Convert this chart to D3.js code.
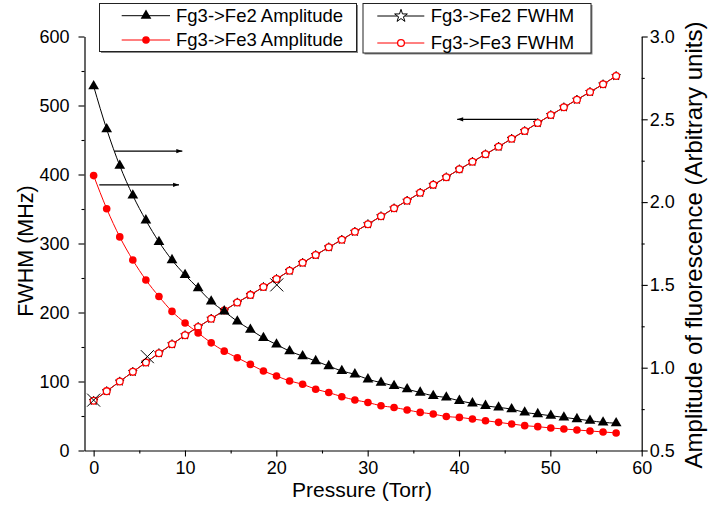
<!DOCTYPE html>
<html><head><meta charset="utf-8">
<script src="https://cdn.jsdelivr.net/npm/d3@7"></script>
<style>
body{margin:0;background:#fff}
svg{display:block}
text{font-family:"Liberation Sans",Arial,Helvetica,sans-serif;fill:#000}
</style>
</head><body>
<svg id="chart" width="713" height="507"></svg>
<script>
// ---------- data ----------
const pressure = [0,1.43,2.86,4.29,5.72,7.15,8.58,10.01,11.44,12.87,14.3,15.73,17.16,18.59,20.02,21.45,22.88,24.31,25.74,27.17,28.6,30.03,31.46,32.89,34.32,35.75,37.18,38.61,40.04,41.47,42.9,44.33,45.76,47.19,48.62,50.05,51.48,52.91,54.34,55.77,57.2];
const fe2Amplitude = [2.70,2.44,2.22,2.04,1.89,1.76,1.65,1.56,1.48,1.40,1.34,1.28,1.23,1.18,1.14,1.10,1.07,1.04,1.01,0.98,0.96,0.93,0.91,0.89,0.87,0.85,0.83,0.82,0.80,0.785,0.77,0.76,0.75,0.73,0.72,0.71,0.70,0.69,0.68,0.67,0.665];
const fe3Amplitude = [2.16,1.96,1.79,1.65,1.53,1.43,1.34,1.27,1.21,1.15,1.10,1.06,1.02,0.98,0.95,0.92,0.90,0.87,0.85,0.825,0.805,0.79,0.77,0.76,0.745,0.73,0.72,0.705,0.70,0.69,0.68,0.67,0.66,0.65,0.644,0.636,0.63,0.624,0.618,0.612,0.606];
const fe2FWHM = [72,86,100,114,127.5,141,154,167,179,191,203,214.5,225.5,237,248.6,260.5,272,283.3,294.5,305.5,317,328,339.5,351,362,373.5,385,396,407.5,418.5,429.3,440.3,451.9,463,474.6,486.2,497.4,508.4,519.6,530.7,542.7];
const fe3FWHM = [72,86,100,114,127.5,141,154,167,179,191,203,214.5,225.5,237,248.6,260.5,272,283.3,294.5,305.5,317,328,339.5,351,362,373.5,385,396,407.5,418.5,429.3,440.3,451.9,463,474.6,486.2,497.4,508.4,519.6,530.7,542.7];
const crossX = [0,5.88,20.05];
const crossY = [73,136,240];
const xTicks = [0,10,20,30,40,50,60];
const xMinor = [5,15,25,35,45,55];
const yLeftTicks = [0,100,200,300,400,500,600];
const yLeftMinor = [50,150,250,350,450,550];
const yRightTicks = [0.5,1.0,1.5,2.0,2.5,3.0];
const yRightMinor = [0.75,1.25,1.75,2.25,2.75];
const arrowX1 = [2.27,0.62,48.5];
const arrowX2 = [9.71,9.35,39.8];
const arrowY = [434,385,480];
const legendLeft = ["Fg3->Fe2 Amplitude","Fg3->Fe3 Amplitude"];
const legendRight = ["Fg3->Fe2 FWHM","Fg3->Fe3 FWHM"];

// ---------- layout ----------
const svg = d3.select("#chart");
const L = 84.5, R = 641.7, T = 36.5, B = 450.5;
const x = d3.scaleLinear().domain([-1,60]).range([L,R]);
const yL = d3.scaleLinear().domain([0,600]).range([B,T]);
const yR = d3.scaleLinear().domain([0.5,3.0]).range([B,T]);
const FS = 18;

svg.append("defs").append("marker")
  .attr("id","ah").attr("viewBox","0 0 10 10").attr("refX",10).attr("refY",5)
  .attr("markerWidth",9).attr("markerHeight",6).attr("markerUnits","userSpaceOnUse")
  .attr("orient","auto")
  .append("path").attr("d","M0,1.5L10,5L0,8.5Z").attr("fill","#000");

// ---------- axes ----------
function styleAxis(g){
  g.selectAll("path.domain").attr("stroke","#000").attr("stroke-width",1.2);
  g.selectAll(".tick line").attr("stroke","#000").attr("stroke-width",1.1);
  g.selectAll("text").attr("font-size",FS).attr("font-family","'Liberation Sans',Arial,sans-serif").attr("fill","#000");
}
const gx = svg.append("g").attr("transform",`translate(0,${B})`)
  .call(d3.axisBottom(x).tickValues(xTicks).tickSize(6).tickSizeOuter(0).tickPadding(5).tickFormat(d3.format("d")));
styleAxis(gx);
const gxm = svg.append("g").attr("transform",`translate(0,${B})`)
  .call(d3.axisBottom(x).tickValues(xMinor).tickSize(3).tickSizeOuter(0).tickFormat(""));
styleAxis(gxm); gxm.select("path.domain").remove();

const gyl = svg.append("g").attr("transform",`translate(${L},0)`)
  .call(d3.axisLeft(yL).tickValues(yLeftTicks).tickSize(6).tickSizeOuter(0).tickPadding(9).tickFormat(d3.format("d")));
styleAxis(gyl);
const gylm = svg.append("g").attr("transform",`translate(${L},0)`)
  .call(d3.axisLeft(yL).tickValues(yLeftMinor).tickSize(3).tickSizeOuter(0).tickFormat(""));
styleAxis(gylm); gylm.select("path.domain").remove();

const gyr = svg.append("g").attr("transform",`translate(${R},0)`)
  .call(d3.axisRight(yR).tickValues(yRightTicks).tickSize(6).tickSizeOuter(0).tickPadding(2).tickFormat(d3.format(".1f")));
styleAxis(gyr);
const gyrm = svg.append("g").attr("transform",`translate(${R},0)`)
  .call(d3.axisRight(yR).tickValues(yRightMinor).tickSize(3).tickSizeOuter(0).tickFormat(""));
styleAxis(gyrm); gyrm.select("path.domain").remove();

// axis titles
svg.append("text").attr("x",362).attr("y",497).attr("text-anchor","middle")
  .attr("font-size",21).text("Pressure (Torr)");
svg.append("text").attr("transform",`translate(33,251) rotate(-90)`).attr("text-anchor","middle")
  .attr("font-size",21.5).text("FWHM (MHz)");
svg.append("text").attr("transform",`translate(702,245) rotate(-90)`).attr("text-anchor","middle")
  .attr("font-size",24).text("Amplitude of fluorescence (Arbitrary units)");

// ---------- series ----------
const fwhm2 = pressure.map((p,i)=>[p,fe2FWHM[i]]);
const fwhm3 = pressure.map((p,i)=>[p,fe3FWHM[i]]);
const amp2 = pressure.map((p,i)=>[p,fe2Amplitude[i]]);
const amp3 = pressure.map((p,i)=>[p,fe3Amplitude[i]]);
const lineL = d3.line().x(d=>x(d[0])).y(d=>yL(d[1])).curve(d3.curveMonotoneX);
const lineR = d3.line().x(d=>x(d[0])).y(d=>yR(d[1])).curve(d3.curveMonotoneX);

const star = d3.symbol().type(d3.symbolStar).size(24);
const starLg = d3.symbol().type(d3.symbolStar).size(50);
const tri = d3.symbol().type(d3.symbolTriangle).size(50);
const xSym = d3.symbol().type(d3.symbolX).size(112);

// FWHM Fe2 (black, stars)
svg.append("path").attr("d",lineL(fwhm2)).attr("fill","none").attr("stroke","#000").attr("stroke-width",1);
svg.append("g").selectAll("path").data(fwhm2).join("path")
  .attr("transform",d=>`translate(${x(d[0])},${yL(d[1])})`).attr("d",star())
  .attr("fill","#000").attr("stroke","#000").attr("stroke-width",0.8);
// FWHM Fe3 (red, open circles)
svg.append("path").attr("d",lineL(fwhm3)).attr("fill","none").attr("stroke","#f00").attr("stroke-width",1);
svg.append("g").selectAll("circle").data(fwhm3).join("circle")
  .attr("cx",d=>x(d[0])).attr("cy",d=>yL(d[1])).attr("r",3.4)
  .attr("fill","#fff").attr("stroke","#f00").attr("stroke-width",1.3);

// Amplitude Fe2 (black triangles)
svg.append("path").attr("d",lineR(amp2)).attr("fill","none").attr("stroke","#000").attr("stroke-width",1);
svg.append("g").selectAll("path").data(amp2).join("path")
  .attr("transform",d=>`translate(${x(d[0])},${yR(d[1])})`).attr("d",tri()).attr("fill","#000");
// Amplitude Fe3 (red circles)
svg.append("path").attr("d",lineR(amp3)).attr("fill","none").attr("stroke","#f00").attr("stroke-width",1);
svg.append("g").selectAll("circle").data(amp3).join("circle")
  .attr("cx",d=>x(d[0])).attr("cy",d=>yR(d[1])).attr("r",3.8).attr("fill","#f00");

// cross markers
svg.append("g").selectAll("path").data(crossX.map((v,i)=>[v,crossY[i]])).join("path")
  .attr("transform",d=>`translate(${x(d[0])},${yL(d[1])})`).attr("d",xSym())
  .attr("fill","none").attr("stroke","#000").attr("stroke-width",1);

// arrows
svg.append("g").selectAll("line").data(arrowY.map((v,i)=>i)).join("line")
  .attr("x1",i=>x(arrowX1[i])).attr("x2",i=>x(arrowX2[i]))
  .attr("y1",i=>yL(arrowY[i])).attr("y2",i=>yL(arrowY[i]))
  .attr("stroke","#000").attr("stroke-width",1.2).attr("marker-end","url(#ah)");

// ---------- legends ----------
function legendBox(x0,y0,w,h){
  svg.append("rect").attr("x",x0+1.5).attr("y",y0+1.5).attr("width",w).attr("height",h).attr("fill","#888");
  svg.append("rect").attr("x",x0).attr("y",y0).attr("width",w).attr("height",h)
    .attr("fill","#fff").attr("stroke","#222").attr("stroke-width",1);
}
legendBox(99.5,3.5,257,48);
legendBox(363,3.5,228,49.5);
const lg = svg.append("g");
[[15.7,"#000"],[40,"#f00"]].forEach(([yy,c],i)=>{
  lg.append("line").attr("x1",121.7).attr("x2",170).attr("y1",yy).attr("y2",yy).attr("stroke",c).attr("stroke-width",1);
  if(i===0) lg.append("path").attr("transform",`translate(146,${yy})`).attr("d",tri()).attr("fill","#000");
  else lg.append("circle").attr("cx",146).attr("cy",yy).attr("r",3.8).attr("fill","#f00");
  lg.append("text").attr("x",176).attr("y",yy).attr("dy","0.35em").attr("font-size",18.5).text(legendLeft[i]);
});
[[16,"#000"],[43,"#f00"]].forEach(([yy,c],i)=>{
  lg.append("line").attr("x1",377.3).attr("x2",424.3).attr("y1",yy).attr("y2",yy).attr("stroke",c).attr("stroke-width",1);
  if(i===0) lg.append("path").attr("transform",`translate(401,${yy})`).attr("d",starLg()).attr("fill","#fff").attr("stroke","#000").attr("stroke-width",1);
  else lg.append("circle").attr("cx",401).attr("cy",yy).attr("r",3.4).attr("fill","#fff").attr("stroke","#f00").attr("stroke-width",1.3);
  lg.append("text").attr("x",430.7).attr("y",yy).attr("dy","0.35em").attr("font-size",18.5).text(legendRight[i]);
});
</script>
</body></html>
